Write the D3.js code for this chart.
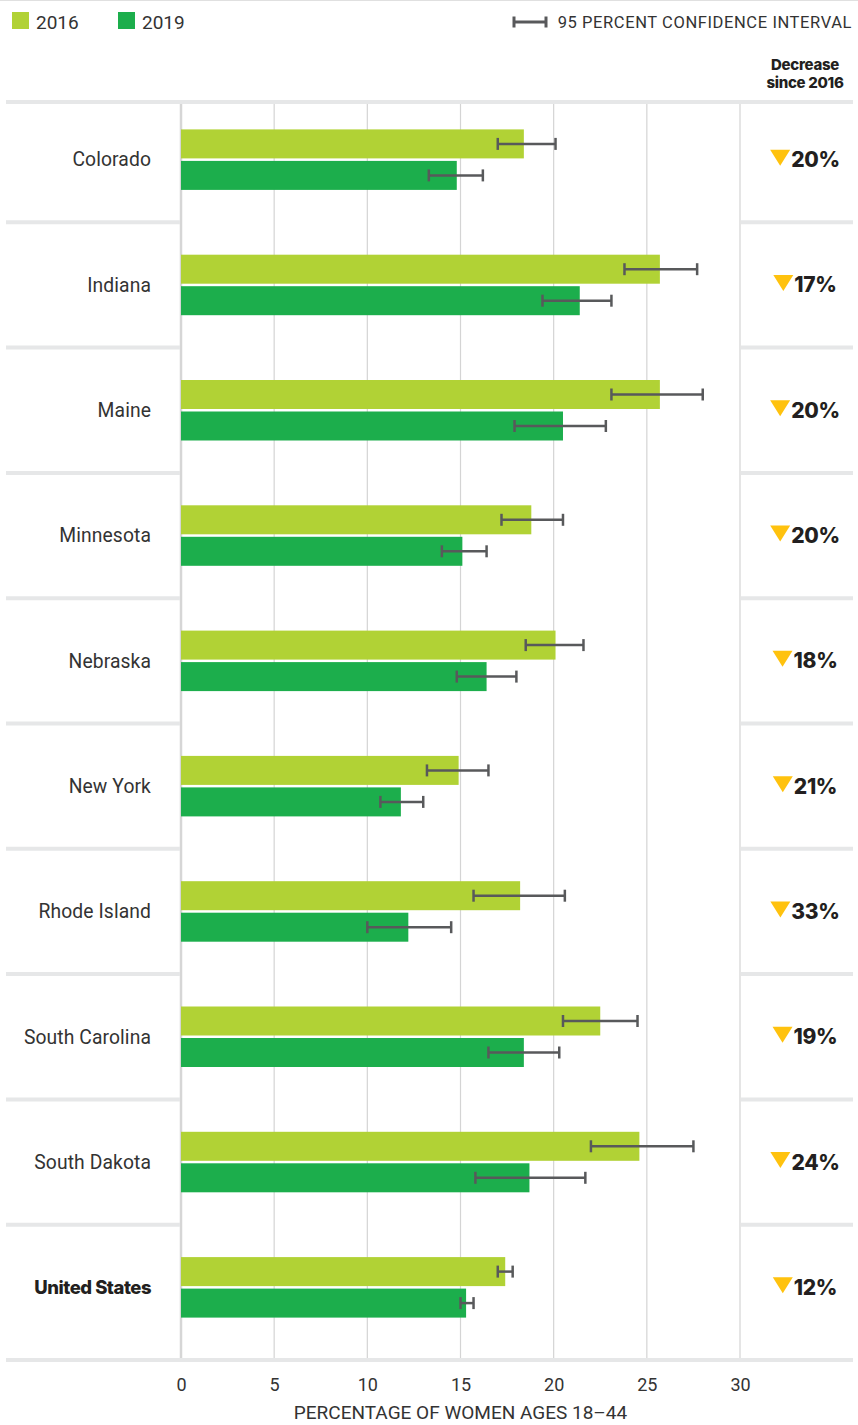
<!DOCTYPE html>
<html><head><meta charset="utf-8">
<script src="https://cdn.jsdelivr.net/npm/d3@7/dist/d3.min.js"></script>
<style>body{margin:0;background:#fff;} svg{display:block;}</style>
</head><body>
<script>
const states = ["Colorado","Indiana","Maine","Minnesota","Nebraska","New York","Rhode Island","South Carolina","South Dakota","United States"];
const v2016 = [18.4,25.7,25.7,18.8,20.1,14.9,18.2,22.5,24.6,17.4];
const lo2016 = [17.0,23.8,23.1,17.2,18.5,13.2,15.7,20.5,22.0,17.0];
const hi2016 = [20.1,27.7,28.0,20.5,21.6,16.5,20.6,24.5,27.5,17.8];
const v2019 = [14.8,21.4,20.5,15.1,16.4,11.8,12.2,18.4,18.7,15.3];
const lo2019 = [13.3,19.4,17.9,14.0,14.8,10.7,10.0,16.5,15.8,15.0];
const hi2019 = [16.2,23.1,22.8,16.4,18.0,13.0,14.5,20.3,21.7,15.7];
const decrease = [20,17,20,20,18,21,33,19,24,12];
const ticks = [0,5,10,15,20,25,30];
const years = ["2016","2019"];

const W=858,H=1425;
const C16="#b1d235", C19="#1cae4c", GOLD="#ffc20e", ERR="#58595b", GRID="#d4d4d4", SEP="#e6e7e8";
const svg=d3.select("body").append("svg").attr("width",W).attr("height",H);
const font="Roboto, 'Noto Sans', sans-serif";
const bold="Inter, Roboto, sans-serif";

const x=d3.scaleLinear().domain([0,30]).range([181,740]);
const y=d3.scaleBand().domain(states).range([97,1350]).paddingInner(0).paddingOuter(0);
const barH=29, gap=2.5;

// top thin line
svg.append("line").attr("x1",0).attr("x2",W).attr("y1",0.5).attr("y2",0.5).attr("stroke","#e0e0e0");

// gridlines
svg.append("g").selectAll("line").data(ticks).join("line")
  .attr("x1",d=>x(d)).attr("x2",d=>x(d)).attr("y1",102).attr("y2",1360)
  .attr("stroke",d=>d===0?"#d6d6d6":GRID).attr("stroke-width",d=>d===0?2.5:1.2);

// separators between rows (outside plot area)
const bounds = states.slice(1).map(s=>y(s));
const sepG=svg.append("g");
bounds.forEach(b=>{
  sepG.append("line").attr("x1",6).attr("x2",180).attr("y1",b).attr("y2",b).attr("stroke",SEP).attr("stroke-width",4);
  sepG.append("line").attr("x1",741).attr("x2",853).attr("y1",b).attr("y2",b).attr("stroke",SEP).attr("stroke-width",4);
});
svg.append("line").attr("x1",6).attr("x2",853).attr("y1",102).attr("y2",102).attr("stroke",SEP).attr("stroke-width",4);
svg.append("line").attr("x1",6).attr("x2",853).attr("y1",1360).attr("y2",1360).attr("stroke",SEP).attr("stroke-width",4);

// bars
const rows=states.map((s,i)=>({s,i}));
const g=svg.append("g");
const center=s=>y(s)+y.bandwidth()/2;
g.selectAll(".b16").data(rows).join("rect")
  .attr("x",x(0)).attr("y",d=>center(d.s)-gap/2-barH)
  .attr("width",d=>x(v2016[d.i])-x(0)).attr("height",barH).attr("fill",C16);
g.selectAll(".b19").data(rows).join("rect")
  .attr("x",x(0)).attr("y",d=>center(d.s)+gap/2)
  .attr("width",d=>x(v2019[d.i])-x(0)).attr("height",barH).attr("fill",C19);

// error bars
function err(lo,hi,yc){
  const eg=g.append("g").attr("stroke",ERR).attr("stroke-width",2.5);
  eg.append("line").attr("x1",x(lo)).attr("x2",x(hi)).attr("y1",yc).attr("y2",yc);
  eg.append("line").attr("x1",x(lo)).attr("x2",x(lo)).attr("y1",yc-6).attr("y2",yc+6);
  eg.append("line").attr("x1",x(hi)).attr("x2",x(hi)).attr("y1",yc-6).attr("y2",yc+6);
}
rows.forEach(d=>{
  const c=center(d.s);
  err(lo2016[d.i],hi2016[d.i],c-gap/2-barH/2);
  err(lo2019[d.i],hi2019[d.i],c+gap/2+barH/2);
});

// state labels
svg.append("g").selectAll("text").data(rows).join("text")
  .attr("x",151).attr("y",d=>center(d.s)).attr("dy","0.35em")
  .attr("text-anchor","end").attr("font-family",d=>d.s==="United States"?bold:font)
  .attr("font-size",d=>d.s==="United States"?18.5:19.3).attr("font-weight",d=>d.s==="United States"?800:400)
  .attr("letter-spacing",d=>d.s==="United States"?"-0.5px":"0.1px")
  .attr("fill",d=>d.s==="United States"?"#231f20":"#333").text(d=>d.s);

// decrease labels
const dg=svg.append("g").selectAll("g").data(rows).join("g");
dg.each(function(d){
  const gg=d3.select(this);
  const c=center(d.s);
  const t=gg.append("text").attr("y",c+7.5).attr("font-family",bold)
    .attr("font-size",21).attr("font-weight",800).attr("letter-spacing","-0.3px").attr("fill","#231f20").text(decrease[d.i]+"%");
  const tw=t.node().getComputedTextLength();
  const triW=20, total=triW+1+tw;
  const x0=805-total/2;
  gg.append("path").attr("d",`M${x0},${c-10}L${x0+triW},${c-10}L${x0+triW/2},${c+6}Z`).attr("fill",GOLD);
  t.attr("x",x0+triW+1);
});

// axis
const axis=svg.append("g").attr("transform","translate(0,1360)")
  .call(d3.axisBottom(x).tickValues(ticks).tickSize(0).tickPadding(18));
axis.select(".domain").remove();
axis.selectAll("text").attr("font-family",font).attr("font-size",18).attr("fill","#333");
svg.append("text").attr("x",(x(0)+x(30))/2).attr("y",1419).attr("text-anchor","middle")
  .attr("font-family",font).attr("font-size",19).attr("fill","#333").text("PERCENTAGE OF WOMEN AGES 18–44");

// legend
const lg=svg.append("g");
years.forEach((yr,i)=>{
  const lx=[12,118][i];
  lg.append("rect").attr("x",lx).attr("y",12).attr("width",17).attr("height",17).attr("fill",i?C19:C16);
  lg.append("text").attr("x",lx+24).attr("y",28.5).attr("font-family",font).attr("font-size",19).attr("fill","#333").text(yr);
});
const ce=lg.append("g").attr("stroke",ERR).attr("stroke-width",3);
ce.append("line").attr("x1",514).attr("x2",546).attr("y1",22).attr("y2",22);
ce.append("line").attr("x1",514).attr("x2",514).attr("y1",16.5).attr("y2",27.5);
ce.append("line").attr("x1",546).attr("x2",546).attr("y1",16.5).attr("y2",27.5);
lg.append("text").attr("x",852).attr("y",28).attr("text-anchor","end")
  .attr("font-family",font).attr("font-size",16.5).attr("letter-spacing","0.6px").attr("fill","#333").text("95 PERCENT CONFIDENCE INTERVAL");

// header
const hd=svg.append("text").attr("text-anchor","middle").attr("font-family",bold)
  .attr("font-size",15).attr("font-weight",800).attr("fill","#231f20").attr("letter-spacing","-0.3px");
hd.append("tspan").attr("x",805).attr("y",70).text("Decrease");
hd.append("tspan").attr("x",805).attr("y",88).text("since 2016");
</script>
</body></html>
